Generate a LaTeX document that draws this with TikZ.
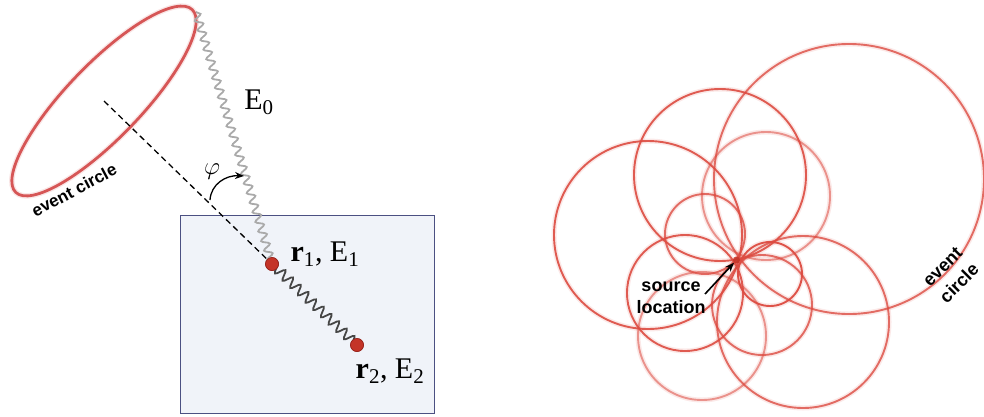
\documentclass[tikz,border=0pt]{standalone}
\usepackage{fontspec}
\setmainfont{Liberation Serif}
\newfontfamily\labfont{Liberation Sans}
\usetikzlibrary{decorations.pathmorphing,arrows.meta}
\definecolor{boxfill}{RGB}{240,243,249}
\definecolor{boxline}{RGB}{75,80,130}
\definecolor{ringred}{RGB}{214,86,86}
\definecolor{circred}{RGB}{220,75,65}
\definecolor{dotred}{RGB}{196,52,40}
\definecolor{dotedge}{RGB}{150,35,28}
\definecolor{photongray}{RGB}{170,170,170}
\definecolor{photondark}{RGB}{70,70,70}
\tikzset{
  serif label/.style={font=\fontsize{30}{33}\selectfont, inner sep=0pt},
  sans label/.style={font=\labfont\bfseries\fontsize{17}{20}\selectfont, inner sep=0pt, align=center},
  hit dot/.style={circle, fill=dotred, draw=dotedge, line width=0.6pt, minimum size=13pt, inner sep=0pt},
  wave/.style={decorate, decoration={snake, amplitude=3.8pt, segment length=10pt}, line width=1.8pt},
  darkwave/.style={decorate, decoration={snake, amplitude=4.8pt, segment length=10.6pt}, line width=1.8pt},
  glow/.style={draw=circred, line width=5pt, opacity=0.12},
  ring/.style={draw=circred, line width=1.9pt},
}
\newcommand\eventring[3]{%
  \draw[glow] (#1) circle[radius=#2];
  \draw[ring, draw opacity=#3] (#1) circle[radius=#2];}
\begin{document}
\begin{tikzpicture}[x=1pt,y=-1pt]
\useasboundingbox (0,0) rectangle (984,416);

% ---------- Compton scattering in the detector ----------
\node[draw=boxline, fill=boxfill, line width=1.4pt, minimum width=254pt, minimum height=198pt,
      inner sep=0pt, anchor=north west] (det) at (180,215) {};

\coordinate (ec) at (104,101);
\coordinate (etip) at (196,12);
\draw[ringred, line width=5.5pt, opacity=0.15, rotate around={46:(ec)}] (ec) ellipse [x radius=127, y radius=37];
\draw[ringred, line width=2.8pt, rotate around={46:(ec)}] (ec) ellipse [x radius=127, y radius=37];
\node[sans label, rotate=28] (lcirc) at (74,190) {event circle};

\node[hit dot] (r1) at (272,264) {};
\node[hit dot] (r2) at (357,345) {};

\draw[dashed, line width=1.3pt, dash pattern=on 6pt off 4pt] (ec) -- (r1.center);
\draw[wave, photongray] (etip) -- (r1.center);
\draw[darkwave, photondark] (r1.center) -- (r2.center);
\node[hit dot] at (r1) {};
\node[hit dot] at (r2) {};

\node[serif label] (e0) at (259,102) {E\textsubscript{0}};
\node[serif label] (l1) at (325,254) {\textbf{r}\textsubscript{1}, E\textsubscript{1}};
\node[serif label] (l2) at (390,371) {\textbf{r}\textsubscript{2}, E\textsubscript{2}};

\coordinate (phia) at (210,200);
\coordinate (phib) at (244,176);
\draw[line width=1.3pt, -{Stealth[length=9pt,width=7pt]}] (phia) .. controls (211,184) and (226,175) .. (phib);
\node[font=\fontsize{29}{32}\selectfont, inner sep=0pt] (phi) at (212,172) {$\varphi$};

% ---------- Overlapping event circles ----------
\eventring{849,179}{135}{0.8}
\eventring{648,235}{94}{0.9}
\eventring{720,175}{86}{0.9}
\eventring{766,196}{64}{0.55}
\eventring{705,234}{40}{0.8}
\eventring{770,274}{32}{0.95}
\eventring{685,293}{58}{0.9}
\eventring{702,336}{64}{0.55}
\eventring{803,322}{86}{0.8}
\eventring{762,305}{50}{0.8}

\node[circle, fill=dotred, opacity=0.85, minimum size=7pt, inner sep=0pt] (src) at (736.5,260) {};

\node[sans label, font=\labfont\bfseries\fontsize{18}{22}\selectfont] (srclab) at (671,298) {source\\location};
\draw[line width=1.6pt, -{Stealth[length=9pt,width=7pt]}] (705,294) -- (src);

\node[sans label, font=\labfont\bfseries\fontsize{18}{23.5}\selectfont, rotate=45] (rcirc) at (951,275) {event\\circle};
\end{tikzpicture}
\end{document}
